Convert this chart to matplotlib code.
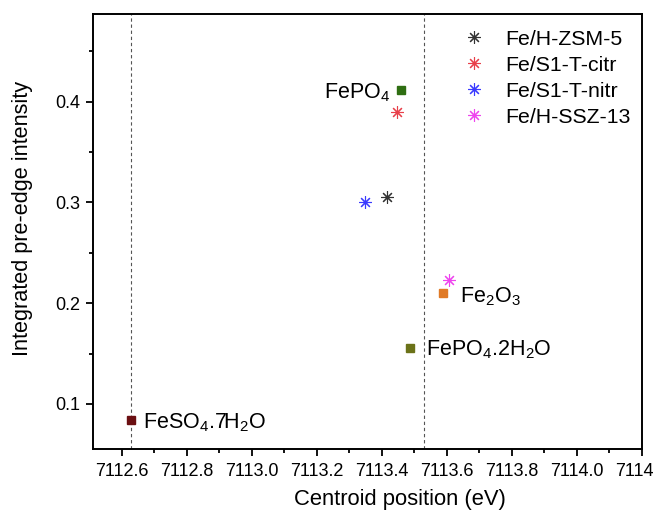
import matplotlib.pyplot as plt
from matplotlib.ticker import MultipleLocator

plt.rcParams['font.family'] = ['Liberation Sans', 'DejaVu Sans']
plt.rcParams['mathtext.fontset'] = 'custom'
plt.rcParams['mathtext.rm'] = 'Liberation Sans'
plt.rcParams['mathtext.it'] = 'Liberation Sans'

# reference compounds (squares)
ref_names = [r'FeSO$_4$.7H$_2$O', r'FePO$_4$', r'Fe$_2$O$_3$', r'FePO$_4$.2H$_2$O']
ref_x = [7112.628, 7113.458, 7113.588, 7113.487]
ref_y = [0.084, 0.412, 0.210, 0.156]
ref_colors = ['#6b0f12', '#2f6e12', '#e07a26', '#6b7218']

# samples (asterisks)
sample_names = ['Fe/H-ZSM-5', 'Fe/S1-T-citr', 'Fe/S1-T-nitr', 'Fe/H-SSZ-13']
sample_x = [7113.415, 7113.446, 7113.348, 7113.606]
sample_y = [0.305, 0.390, 0.300, 0.223]
sample_colors = ['#333333', '#e8404a', '#3a3aff', '#ee44ee']

# dashed guide lines
vlines = [7112.628, 7113.53]

fig = plt.figure(figsize=(6.54, 5.11), dpi=100)
ax = fig.add_axes([93/654, 1 - 449/511, (642-93)/654, (449-14)/511])

for xv in vlines:
    ax.axvline(xv, color='#555555', linestyle=(0, (3, 2.5)), linewidth=0.8, zorder=1)

for x, y, c in zip(ref_x, ref_y, ref_colors):
    ax.plot(x, y, 's', color=c, markersize=6.3, zorder=3)

offsets = [(8.6, -5.8), (-7.2, -6.5), (12.2, -6.5), (11.5, -5.8)]
aligns = ['left', 'right', 'left', 'left']
for name, x, y, off, ha in zip(ref_names, ref_x, ref_y, offsets, aligns):
    ax.annotate(name, (x, y), xytext=off, textcoords='offset points',
                ha=ha, va='baseline', fontsize=15.5)

for name, x, y, c in zip(sample_names, sample_x, sample_y, sample_colors):
    ax.plot(x, y, marker=(8, 2, 0), color=c, markersize=9, linestyle='none',
            markeredgewidth=0.8, label=name, zorder=3)

ax.set_xlim(7112.512, 7114.2)
ax.set_ylim(0.0553, 0.487)
ax.xaxis.set_major_locator(MultipleLocator(0.2))
ax.xaxis.set_minor_locator(MultipleLocator(0.1))
ax.yaxis.set_major_locator(MultipleLocator(0.1))
ax.yaxis.set_minor_locator(MultipleLocator(0.05))
ax.xaxis.set_major_formatter(plt.FormatStrFormatter('%.1f'))
ax.tick_params(which='both', direction='out', labelsize=13, width=1.3)
ax.tick_params(which='major', length=5)
ax.tick_params(which='minor', length=3)
ax.tick_params(axis='x', pad=5)
ax.tick_params(axis='y', pad=4)
for s in ax.spines.values():
    s.set_linewidth(1.4)

ax.set_xlabel('Centroid position (eV)', fontsize=15.8)
ax.set_ylabel('Integrated pre-edge intensity', fontsize=15.6)
ax.xaxis.set_label_coords(0.559, -0.116)
ax.yaxis.set_label_coords(-0.129, 0.531)
ax.xaxis.label.set_va('center')
ax.yaxis.label.set_va('center')

ax.legend(loc='upper right', bbox_to_anchor=(1.007, 1.0), frameon=False,
          fontsize=15.3, handlelength=1.0, handletextpad=0.95, borderpad=0.4,
          borderaxespad=0.33, labelspacing=0.33)

fig.savefig('out.png', dpi=100)
